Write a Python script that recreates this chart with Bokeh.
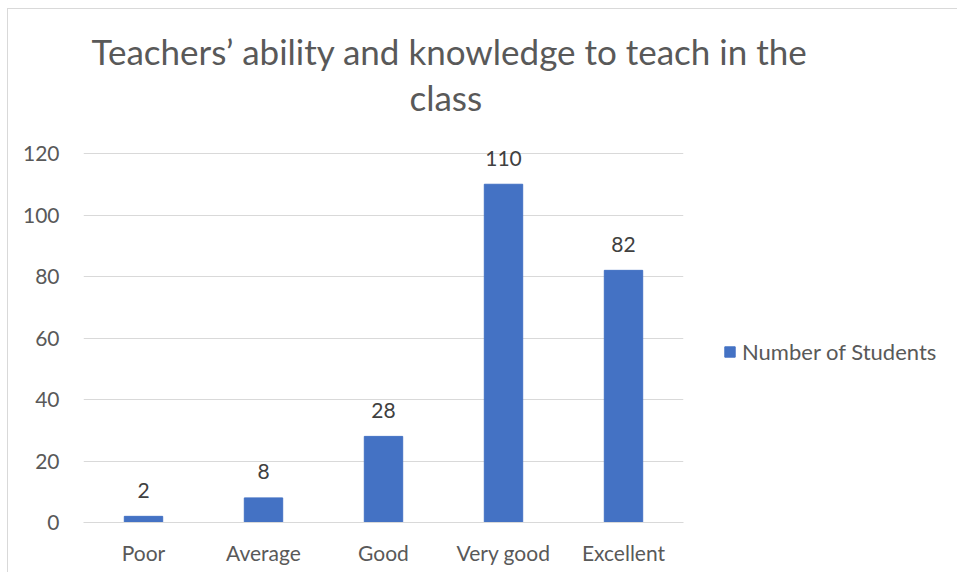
from bokeh.plotting import figure
from bokeh.models import ColumnDataSource, Legend, LegendItem, Title, FixedTicker
from bokeh.core.properties import value
from bokeh.embed import file_html
from bokeh.resources import INLINE

categories = ["Poor", "Average", "Good", "Very good", "Excellent"]
students = [2, 8, 28, 110, 82]
labels = [str(v) for v in students]
series_name = "Number of Students"
y_ticks = [0, 20, 40, 60, 80, 100, 120]
title_lines = ["Teachers\u2019 ability and knowledge to teach in the", "class"]

FONT = "Lato"
GREY = "#595959"
BAR = "#4472C4"

src = ColumnDataSource(dict(cat=categories, val=students, lab=labels))

# the 0..120 axis spans 369 px; the frame has extra head-room above 120
# (no gridline or tick there) so the "110" label is not clipped
AXIS_PX = 369
FRAME_H = 403
y_end = y_ticks[-1] * FRAME_H / AXIS_PX

p = figure(x_range=categories, y_range=(0, y_end),
           frame_width=600, frame_height=FRAME_H,
           output_backend="svg", toolbar_location=None, tools="",
           min_border_left=75, min_border_top=110, min_border_bottom=50,
           min_border_right=266)
p.x_range.range_padding = 0
p.margin = (8, 0, 0, 7)

# title: stacked upward from the frame (second line first)
t2 = Title(text=title_lines[1], align="left", offset=326, text_font=FONT,
           text_font_size="35px", text_font_style="normal", text_color=GREY,
           standoff=4)
t1 = Title(text=title_lines[0], align="left", offset=8, text_font=FONT,
           text_font_size="35px", text_font_style="normal", text_color=GREY,
           standoff=0)
p.add_layout(t2, "above")
p.add_layout(t1, "above")

bars = p.vbar(x="cat", top="val", width=0.32, source=src, fill_color=BAR,
              line_color=BAR)
p.text(x="cat", y="val", text="lab", source=src, text_align="center",
       text_baseline="alphabetic", y_offset=-26, text_font=value(FONT),
       text_font_size="21px", text_color="#404040")

p.outline_line_color = None
p.xgrid.grid_line_color = None
p.ygrid.grid_line_color = "#d9d9d9"
p.ygrid.grid_line_width = 1
p.yaxis.ticker = FixedTicker(ticks=y_ticks)
for ax in (p.xaxis, p.yaxis):
    ax.axis_line_color = None
    ax.major_tick_line_color = None
    ax.minor_tick_line_color = None
    ax.major_label_text_font = FONT
    ax.major_label_text_font_size = "21px"
    ax.major_label_text_color = GREY
p.yaxis.major_label_standoff = 18
p.xaxis.major_label_standoff = 11
p.xaxis.axis_line_color = "#d9d9d9"
p.xaxis.axis_line_width = 1

legend = Legend(items=[LegendItem(label=series_name, renderers=[bars])],
                location=(40, 157), orientation="vertical",
                label_text_font=FONT, label_text_font_size="22px",
                label_text_color=GREY, border_line_color=None,
                background_fill_alpha=0, glyph_width=13, glyph_height=13,
                label_standoff=6, padding=0, margin=0)
p.add_layout(legend, "right")

p.styles = {"border-top": "1px solid #d9d9d9", "border-left": "1px solid #d9d9d9"}

open("out.html", "w").write(file_html(p, INLINE))
